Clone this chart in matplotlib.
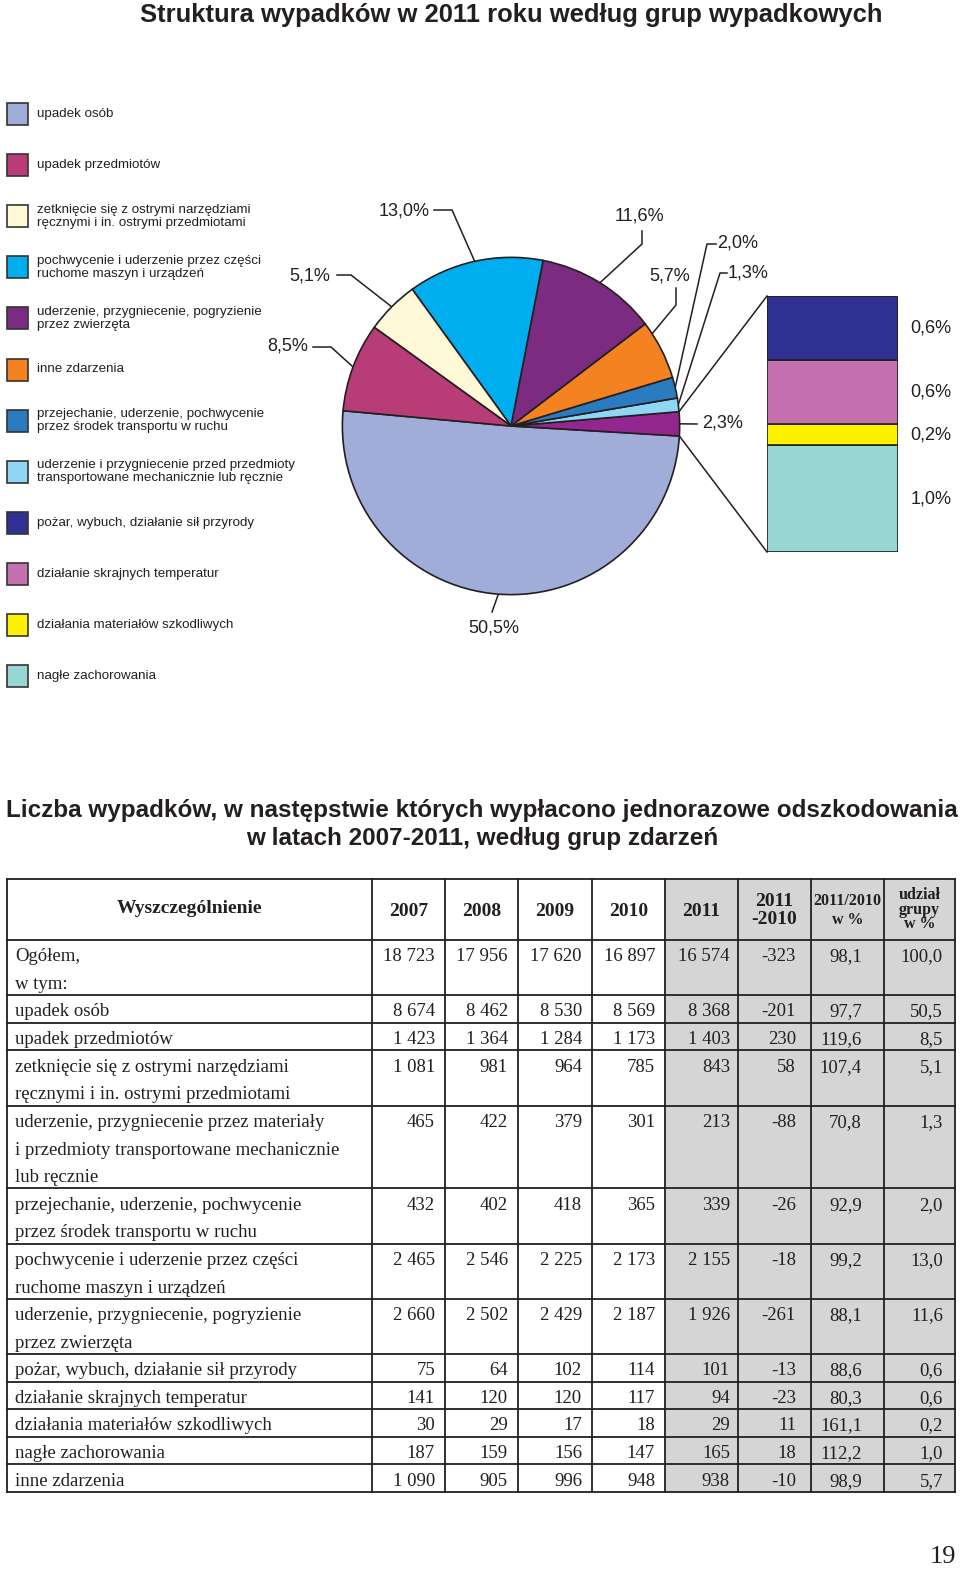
import matplotlib
matplotlib.use('Agg')
import matplotlib.pyplot as plt
from matplotlib.patches import Rectangle
from matplotlib import font_manager
import numpy as np

W, H = 960, 1569
names = {f.name for f in font_manager.fontManager.ttflist}
SANS = 'Liberation Sans Narrow' if 'Liberation Sans Narrow' in names else 'Liberation Sans'
SERIF = 'Liberation Serif'

# ---------------- data ----------------
legend_labels = [
    'upadek osób',
    'upadek przedmiotów',
    'zetknięcie się z ostrymi narzędziami\nręcznymi i in. ostrymi przedmiotami',
    'pochwycenie i uderzenie przez części\nruchome maszyn i urządzeń',
    'uderzenie, przygniecenie, pogryzienie\nprzez zwierzęta',
    'inne zdarzenia',
    'przejechanie, uderzenie, pochwycenie\nprzez środek transportu w ruchu',
    'uderzenie i przygniecenie przed przedmioty\ntransportowane mechanicznie lub ręcznie',
    'pożar, wybuch, działanie sił przyrody',
    'działanie skrajnych temperatur',
    'działania materiałów szkodliwych',
    'nagłe zachorowania',
]
legend_colors = ['#a1add9', '#b83d77', '#fff9d8', '#00aeef', '#7b2c80', '#f58220',
                 '#2b7bc1', '#8fd6f4', '#2e3192', '#c571b0', '#fff200', '#98d6d3']

# pie (counter-clockwise order starting from "upadek osób")
pie_labels = ['upadek osób', 'pozostałe', 'przedmioty transportowane', 'przejechanie',
              'inne zdarzenia', 'zwierzęta', 'części maszyn', 'ostre narzędzia',
              'upadek przedmiotów']
pie_values = [50.5, 2.3, 1.3, 2.0, 5.7, 11.6, 13.0, 5.1, 8.5]
pie_colors = ['#a1add9', '#93278f', '#8fd6f4', '#2b7bc1', '#f58220', '#7b2c80',
              '#00aeef', '#fff9d8', '#b83d77']

# breakdown bar (bottom to top)
bar_labels = ['nagłe zachorowania', 'działania materiałów szkodliwych',
              'działanie skrajnych temperatur', 'pożar, wybuch, działanie sił przyrody']
bar_values = [1.0, 0.2, 0.6, 0.6]
bar_colors = ['#98d6d3', '#fff200', '#c571b0', '#2e3192']

# table
col_headers = ['Wyszczególnienie', '2007', '2008', '2009', '2010', '2011',
               '2011\n-2010', '2011/2010\nw %', 'udział\ngrupy\nw %']
row_labels = [
    'Ogółem,\nw tym:',
    'upadek osób',
    'upadek przedmiotów',
    'zetknięcie się z ostrymi narzędziami\nręcznymi i in. ostrymi przedmiotami',
    'uderzenie, przygniecenie przez materiały\ni przedmioty transportowane mechanicznie\nlub ręcznie',
    'przejechanie, uderzenie, pochwycenie\nprzez środek transportu w ruchu',
    'pochwycenie i uderzenie przez części\nruchome maszyn i urządzeń',
    'uderzenie, przygniecenie, pogryzienie\nprzez zwierzęta',
    'pożar, wybuch, działanie sił przyrody',
    'działanie skrajnych temperatur',
    'działania materiałów szkodliwych',
    'nagłe zachorowania',
    'inne zdarzenia',
]
v2007 = [18723, 8674, 1423, 1081, 465, 432, 2465, 2660, 75, 141, 30, 187, 1090]
v2008 = [17956, 8462, 1364, 981, 422, 402, 2546, 2502, 64, 120, 29, 159, 905]
v2009 = [17620, 8530, 1284, 964, 379, 418, 2225, 2429, 102, 120, 17, 156, 996]
v2010 = [16897, 8569, 1173, 785, 301, 365, 2173, 2187, 114, 117, 18, 147, 948]
v2011 = [16574, 8368, 1403, 843, 213, 339, 2155, 1926, 101, 94, 29, 165, 938]
diff = [-323, -201, 230, 58, -88, -26, -18, -261, -13, -23, 11, 18, -10]
ratio = [98.1, 97.7, 119.6, 107.4, 70.8, 92.9, 99.2, 88.1, 88.6, 80.3, 161.1, 112.2, 98.9]
share = [100.0, 50.5, 8.5, 5.1, 1.3, 2.0, 13.0, 11.6, 0.6, 0.6, 0.2, 1.0, 5.7]

# ---------------- figure ----------------
fig = plt.figure(figsize=(W / 100, H / 100), dpi=100)
fig.patch.set_facecolor('white')
ax = fig.add_axes([0, 0, 1, 1])
ax.set_xlim(0, W)
ax.set_ylim(H, 0)
ax.axis('off')
renderer = fig.canvas.get_renderer()


def fit_size(s, width, **kw):
    t = ax.text(0, 0, s, fontsize=20, **kw)
    w = t.get_window_extent(renderer).width
    t.remove()
    return 20 * width / w


TXT = '#231f20'

# titles
fs = fit_size('Struktura wypadków w 2011 roku według grup wypadkowych', 742,
              family=SANS, weight='bold')
ax.text(511, 15, 'Struktura wypadków w 2011 roku według grup wypadkowych',
        family=SANS, weight='bold', fontsize=fs, ha='center', va='center', color=TXT)
t2a = 'Liczba wypadków, w następstwie których wypłacono jednorazowe odszkodowania'
t2b = 'w latach 2007-2011, według grup zdarzeń'
fs2 = fit_size(t2a, 948, family=SANS, weight='bold')
ax.text(482, 811, t2a, family=SANS, weight='bold', fontsize=fs2, ha='center', va='center', color=TXT)
ax.text(482, 839, t2b, family=SANS, weight='bold', fontsize=fs2, ha='center', va='center', color=TXT)

# legend
fsl = fit_size('uderzenie i przygniecenie przed przedmioty', 241, family=SANS) * 1.07
for i, (lab, col) in enumerate(zip(legend_labels, legend_colors)):
    yc = 114 + i * 51.1
    ax.add_patch(Rectangle((7, yc - 11), 21, 22, facecolor=col, edgecolor='#333333', lw=1.2))
    ax.text(37, yc, lab, family=SANS, fontsize=fsl, ha='left', va='center',
            color=TXT, linespacing=1.15)

# pie
cx, cy, R = 511, 426, 172
ax_pie = fig.add_axes([(cx - R) / W, (H - cy - R) / H, 2 * R / W, 2 * R / H])
wedges, _ = ax_pie.pie(pie_values, colors=pie_colors, startangle=174.8, counterclock=True,
                       radius=1.0, wedgeprops=dict(edgecolor='#231f20', linewidth=1.2))
ax_pie.set_xlim(-1.02, 1.02)
ax_pie.set_ylim(-1.02, 1.02)
ax_pie.axis('off')
ax_pie.set_aspect('equal')
rpx = 1.0 * R / 1.02


def edge_pt(theta):
    a = np.deg2rad(theta)
    return (cx + rpx * np.cos(a), cy - rpx * np.sin(a))


label_pos = [(494, 628), (723, 423), (748, 273), (738, 243), (670, 276),
             (639, 216), (404, 211), (310, 276), (288, 346)]
leader_pts = [[(492, 612)], [(697, 424)], [(727, 273), (720, 273)],
              [(716, 244), (707, 244)], [(676, 288), (676, 305)],
              [(642, 231), (642, 244)], [(434, 210), (452, 210)],
              [(337, 275), (351, 275)], [(313, 347), (331, 347)]]
anchor_frac = [0.5, 0.5, 0.5, 0.5, 0.8, 0.5, 0.5, 0.5, 0.5]
for w, v, pos, pts, fr in zip(wedges, pie_values, label_pos, leader_pts, anchor_frac):
    ang = w.theta1 + fr * (w.theta2 - w.theta1)
    ex, ey = edge_pt(ang)
    xs = [p[0] for p in pts] + [ex]
    ys = [p[1] for p in pts] + [ey]
    ax.plot(xs, ys, color='#231f20', lw=1.1)
    ax.text(pos[0], pos[1], f'{v:.1f}%'.replace('.', ','), family='Liberation Sans',
            fontsize=13, ha='center', va='center', color=TXT)

# breakdown bar
bx0, bx1, by0, by1 = 767, 898, 296, 552
ax_bar = fig.add_axes([bx0 / W, (H - by1) / H, (bx1 - bx0) / W, (by1 - by0) / H])
bottom = 0.0
tot = sum(bar_values)
for v, c in zip(bar_values, bar_colors):
    ax_bar.bar(0, v, bottom=bottom, width=1.0, color=c, edgecolor='#231f20', lw=1.2)
    ymid = by1 - (bottom + v / 2) / tot * (by1 - by0)
    ax.text(931, ymid, f'{v:.1f}%'.replace('.', ','), family='Liberation Sans',
            fontsize=13, ha='center', va='center', color=TXT)
    bottom += v
ax_bar.set_xlim(-0.5, 0.5)
ax_bar.set_ylim(0, tot)
ax_bar.axis('off')

# connectors from the small slice to the bar
wsmall = wedges[1]
p_top = edge_pt(wsmall.theta2)
p_bot = edge_pt(wsmall.theta1)
ax.plot([p_top[0], bx0], [p_top[1], by0], color='#231f20', lw=1.1)
ax.plot([p_bot[0], bx0], [p_bot[1], by1], color='#231f20', lw=1.1)

# ---------------- table ----------------
col_x = [7, 372, 445, 518, 592, 665, 738, 811, 884, 955]
top, head_bot = 879, 940
line_h = 27.6
nlines = [2] + [lab.count('\n') + 1 for lab in row_labels[1:]]
ax.add_patch(Rectangle((col_x[5], top), col_x[-1] - col_x[5], 1493 - top,
                       facecolor='#d5d5d5', edgecolor='none', zorder=0))
row_tops = []
y = head_bot
for n in nlines:
    row_tops.append(y)
    y += n * line_h
bottom_y = y

LC = '#231f20'
for x in col_x:
    ax.plot([x, x], [top, bottom_y], color=LC, lw=1.3)
for yy in [top, head_bot] + row_tops[1:] + [bottom_y]:
    ax.plot([col_x[0], col_x[-1]], [yy, yy], color=LC, lw=1.3)

# header
hy = (top + head_bot) / 2
ax.text((col_x[0] + col_x[1]) / 2, hy - 1, col_headers[0], family=SERIF, weight='bold',
        fontsize=14, ha='center', va='center', color=TXT)
for j in range(1, 6):
    ax.text((col_x[j] + col_x[j + 1]) / 2, hy + 2, col_headers[j], family=SERIF,
            weight='bold', fontsize=14, ha='center', va='center', color=TXT)
ax.text((col_x[6] + col_x[7]) / 2, hy + 1, col_headers[6], family=SERIF, weight='bold',
        fontsize=14, ha='center', va='center', color=TXT, linespacing=1.05)
ax.text((col_x[7] + col_x[8]) / 2, hy + 1, col_headers[7], family=SERIF, weight='bold',
        fontsize=11.5, ha='center', va='center', color=TXT, linespacing=1.2)
ax.text((col_x[8] + col_x[9]) / 2, hy, col_headers[8], family=SERIF, weight='bold',
        fontsize=11.5, ha='center', va='center', color=TXT, linespacing=0.88)


def fmt_int(v):
    return f'{v:,}'.replace(',', ' ')


def fmt_dec(v):
    return f'{v:.1f}'.replace('.', ',')


pads = [0, 10, 10, 10, 10, 8, 15, 22, 12]
FS = 13.5
for i, lab in enumerate(row_labels):
    y0 = row_tops[i]
    for k, line in enumerate(lab.split('\n')):
        ax.text(col_x[0] + 8, y0 + line_h * (k + 0.5) + 3, line, family=SERIF,
                fontsize=FS, ha='left', va='center', color=TXT)
    vals = [fmt_int(v2007[i]), fmt_int(v2008[i]), fmt_int(v2009[i]), fmt_int(v2010[i]),
            fmt_int(v2011[i]), str(diff[i]), fmt_dec(ratio[i]), fmt_dec(share[i])]
    for j, s in enumerate(vals, start=1):
        ax.text(col_x[j + 1] - pads[j], y0 + line_h * 0.5 + 3, s, family=SERIF,
                fontsize=FS, ha='right', va='center', color=TXT)

# page number
ax.text(956, 1557, '19', family=SERIF, fontsize=19, ha='right', va='center', color=TXT)

fig.savefig('out.png', dpi=100, facecolor='white')
